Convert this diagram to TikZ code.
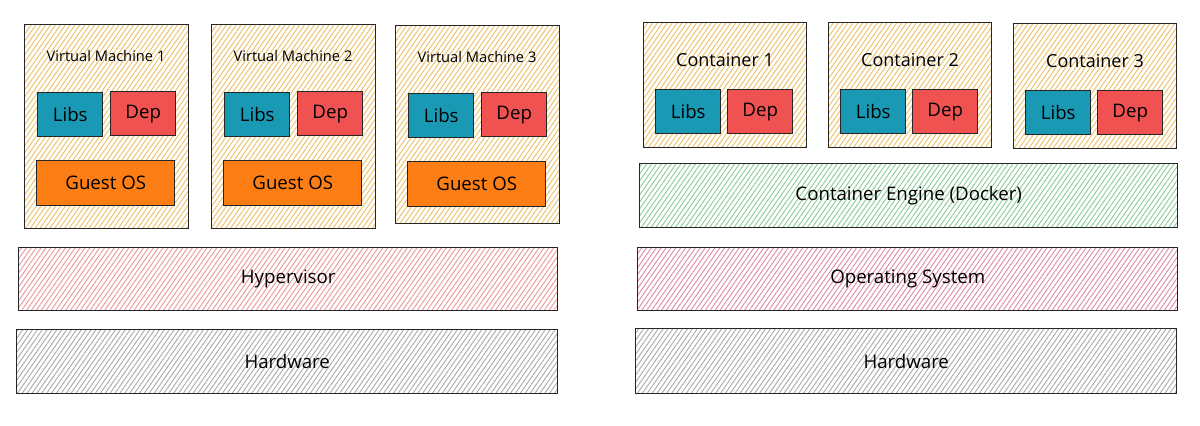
\documentclass[tikz,border=0pt]{standalone}
\usepackage{fontspec}
\setmainfont{Open Sans}
\usepackage{xcolor}
\usepackage{tikz}
\usetikzlibrary{patterns.meta}

\definecolor{libsblue}{HTML}{1A99B4}
\definecolor{depred}{HTML}{F05252}
\definecolor{guestorange}{HTML}{FD7E14}
\definecolor{hatchyellow}{HTML}{EBC068}
\definecolor{hatchred}{HTML}{EC9898}
\definecolor{hatchpink}{HTML}{E08AAB}
\definecolor{hatchgreen}{HTML}{8CCB99}
\definecolor{hatchgray}{HTML}{ABABAB}

\tikzset{
	hatchbox/.style={draw=black!85, line width=1.1pt, inner sep=0pt, anchor=north west,
		pattern={Lines[angle=55,distance=3pt,line width=0.7pt]}, pattern color=#1},
	solidbox/.style={draw=black!85, line width=1.1pt, inner sep=0pt, anchor=north west,
		fill=#1, minimum height=33pt, font=\fontsize{14}{16}\selectfont},
	titletext/.style={font=\fontsize{#1}{14}\selectfont}
}

\begin{document}
\begin{tikzpicture}[x=0.75pt,y=-0.75pt]
				\useasboundingbox (0,0) rectangle (1200,425);
				
				% virtual machines
				\foreach \n/\x/\y/\h in
				{1/24/24/153, 2/211/24/153, 3/395/25/148.5}{
					\node[hatchbox=hatchyellow, minimum width=123pt, minimum height=\h pt] (vm\n) at (\x,\y) {};
					\node[titletext=11] (vmtitle\n) at ({\x+82},{\y+32}) {Virtual Machine \n};
					\node[solidbox=libsblue, minimum width=48.75pt] (vmlibs\n) at ({\x+13},{\y+68}) {Libs};
					\node[solidbox=depred, minimum width=48.75pt] (vmdep\n) at ({\x+86},{\y+67}) {Dep};
					\node[solidbox=guestorange, minimum width=103.5pt, minimum height=33.75pt] (guest\n) at ({\x+12},{\y+136}) {Guest OS};
				}
				
				% containers
				\foreach \n/\x/\y in
				{1/643/22, 2/828/22, 3/1013/23}{
					\node[hatchbox=hatchyellow, minimum width=122.25pt, minimum height=93.75pt] (ct\n) at (\x,\y) {};
					\node[titletext=13.5] (cttitle\n) at ({\x+82},{\y+38}) {Container \n};
					\node[solidbox=libsblue, minimum width=48.75pt] (ctlibs\n) at ({\x+12},{\y+67}) {Libs};
					\node[solidbox=depred, minimum width=48.75pt] (ctdep\n) at ({\x+84},{\y+67}) {Dep};
				}
				
				% layers
				\foreach \n/\x/\y/\w/\h/\c/\t in
				{hyper/18/247/539/63/hatchred/Hypervisor,
				 hwleft/16/329/541/64/hatchgray/Hardware,
				 engine/639/163/538/64/hatchgreen/Container Engine (Docker),
				 os/637/247/540/63/hatchpink/Operating System,
				 hwright/635/328/541/65/hatchgray/Hardware}{
					\node[hatchbox=\c, minimum width={\w*0.75pt}, minimum height={\h*0.75pt},
						font=\fontsize{14}{16}\selectfont] (\n) at (\x,\y) {\t};
				}
\end{tikzpicture}
\end{document}
